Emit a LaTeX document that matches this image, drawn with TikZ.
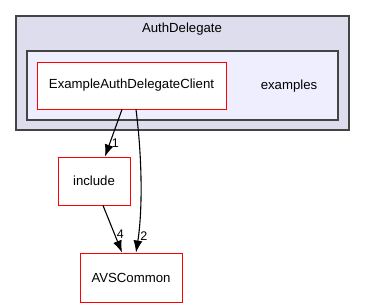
\documentclass[tikz,border=0pt]{standalone}
\usepackage{fontspec}
\setmainfont{Liberation Sans}
\usetikzlibrary{arrows.meta}

\definecolor{clusterfill}{HTML}{DDDDEE}
\definecolor{subfill}{HTML}{EEEEFF}
\definecolor{clusterline}{HTML}{444444}
\definecolor{dirline}{HTML}{FF0000}

\begin{document}
\begin{tikzpicture}[x=1pt,y=-1pt,
  every node/.style={font=\fontsize{13.2}{15}\selectfont},
  dir/.style={draw=dirline, fill=white, line width=0.9pt, inner sep=0pt},
  dep/.style={-{Latex[length=12pt,width=9pt]}, line width=1.1pt},
  num/.style={font=\fontsize{12.5}{13}\selectfont, inner sep=1.5pt}]
\useasboundingbox (0,0) rectangle (365,307);
% directory clusters
\draw[fill=clusterfill, draw=clusterline, line width=1.3pt] (16,16) rectangle (349,130);
\node (authdelegate) at (182,29) {AuthDelegate};
\draw[fill=subfill, draw=clusterline, line width=1.3pt] (27,51) rectangle (338,120);
\node (examples) at (289,86) {examples};
% directories
\node[dir, minimum width=189pt, minimum height=47pt] (client) at (131.5,85.5) {ExampleAuthDelegateClient};
\node[dir, minimum width=72pt, minimum height=48pt] (include) at (94,181) {include};
\node[dir, minimum width=102pt, minimum height=49pt] (avscommon) at (131,277.5) {AVSCommon};
% dependencies
\draw[dep] ([xshift=-9.5pt]client.south) -- ([xshift=11pt]include.north)
  node[num, pos=0.72, right] {1};
\draw[dep] ([xshift=4.5pt]client.south) .. controls (143,165) and (142,215) .. ([xshift=5pt]avscommon.north)
  node[num, pos=0.86, right] {2};
\draw[dep] ([xshift=9pt]include.south) -- ([xshift=-9pt]avscommon.north)
  node[num, pos=0.62, right] {4};
\end{tikzpicture}
\end{document}
